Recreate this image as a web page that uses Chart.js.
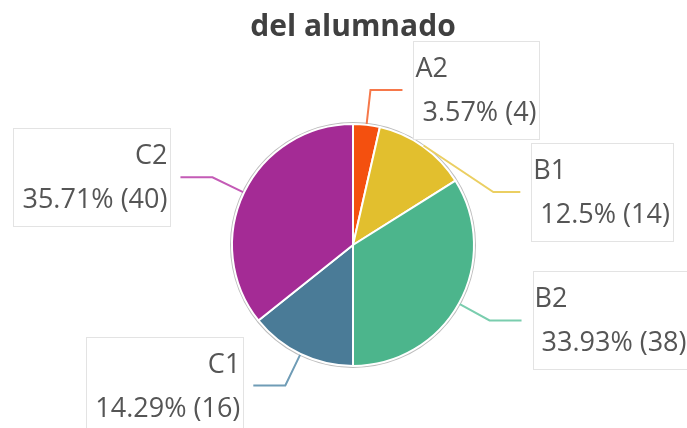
<!DOCTYPE html>
<html><head><meta charset="utf-8">
<script src="https://cdn.jsdelivr.net/npm/chart.js@4"></script>
<style>html,body{margin:0;padding:0;background:#fff}#wrap{width:687px;height:428px}</style>
</head><body><div id="wrap"><canvas id="c" width="687" height="428"></canvas></div>
<script>
const categories = ['A2', 'B1', 'B2', 'C1', 'C2'];
const counts = [4, 14, 38, 16, 40];
const percentLabels = ['3.57%', '12.5%', '33.93%', '14.29%', '35.71%'];
const sliceColors = ['#F4500F', '#E2BF2E', '#4CB58C', '#4A7B97', '#A42B95'];
const lineColors = ['#F6784A', '#EBCF62', '#7ACDAE', '#6F9CB6', '#C45BB6'];
const titleText = 'del alumnado';

const LABEL_FONT = '27px "Open Sans"';
const labelPlugin = {
  id: 'boxLabels',
  beforeDatasetsDraw(chart) {
    const arcs = chart.getDatasetMeta(0).data;
    if (!arcs.length) return;
    const a = arcs[0];
    const ctx = chart.ctx;
    ctx.save();
    ctx.beginPath();
    ctx.arc(a.x, a.y, a.outerRadius + 0.5, 0, Math.PI * 2);
    ctx.strokeStyle = '#BDBDBD';
    ctx.lineWidth = 3;
    ctx.stroke();
    ctx.restore();
  },
  afterDraw(chart) {
    const ctx = chart.ctx;
    const arcs = chart.getDatasetMeta(0).data;
    const items = arcs.map((arc, i) => {
      const mid = (arc.startAngle + arc.endAngle) / 2;
      const r = arc.outerRadius + 1;
      const cx = arc.x, cy = arc.y;
      const p0 = {x: cx + r * Math.cos(mid), y: cy + r * Math.sin(mid)};
      const er = r + 34;
      const elbow = {x: cx + er * Math.cos(mid), y: cy + er * Math.sin(mid)};
      const right = Math.cos(mid) >= 0;
      return {i, mid, r, cx, cy, p0, elbow, right, y: elbow.y, pushed: false};
    });
    const H = 98, GAP = 4;
    // collision avoidance for right side (top to bottom)
    const rights = items.filter(o => o.right).sort((a, b) => a.y - b.y);
    for (let k = 1; k < rights.length; k++) {
      const prev = rights[k - 1], cur = rights[k];
      if (cur.y - H / 2 < prev.y + H / 2 + GAP) {
        cur.y = prev.y + H + GAP;
        cur.pushed = true;
      }
    }
    ctx.save();
    ctx.font = LABEL_FONT;
    items.forEach(o => {
      const i = o.i;
      let elbow = o.elbow, hLen = 32;
      if (o.pushed) {
        const er = o.r + 28;
        const dy = o.y - o.cy;
        elbow = {x: o.cx + Math.sqrt(Math.max(er * er - dy * dy, 0)), y: o.y};
        hLen = 27;
      }
      const endX = o.right ? elbow.x + hLen : elbow.x - hLen;
      ctx.beginPath();
      ctx.moveTo(o.p0.x, o.p0.y);
      ctx.lineTo(elbow.x, elbow.y);
      ctx.lineTo(endX, elbow.y);
      ctx.strokeStyle = lineColors[i];
      ctx.lineWidth = 2;
      ctx.stroke();

      const name = categories[i];
      const value = percentLabels[i] + ' (' + counts[i] + ')';
      const w = Math.max(ctx.measureText(name).width, ctx.measureText(value).width) + 12;
      const midY = elbow.y;
      let left;
      if (o.right) left = endX + 11; else left = endX - 10 - w;
      ctx.fillStyle = '#FFFFFF';
      ctx.fillRect(left, midY - H / 2, w, H);
      ctx.strokeStyle = '#E3E3E3';
      ctx.lineWidth = 1;
      ctx.strokeRect(Math.round(left) + 0.5, Math.round(midY - H / 2) + 0.5, Math.round(w), H);
      ctx.fillStyle = '#555555';
      ctx.textBaseline = 'alphabetic';
      if (o.right) {
        ctx.textAlign = 'left';
        ctx.fillText(name, left + 2, midY - 13);
        ctx.fillText(value, left + 9, midY + 31);
      } else {
        ctx.textAlign = 'right';
        ctx.fillText(name, left + w - 3, midY - 13);
        ctx.fillText(value, left + w - 3, midY + 31);
      }
    });
    ctx.restore();
  }
};

new Chart(document.getElementById('c'), {
  type: 'pie',
  data: {
    labels: categories,
    datasets: [{
      data: counts,
      backgroundColor: sliceColors,
      borderColor: '#FFFFFF',
      borderWidth: 2
    }]
  },
  options: {
    responsive: false,
    animation: false,
    layout: {padding: {left: 200, right: 181, top: 0, bottom: 61}},
    plugins: {
      legend: {display: false},
      tooltip: {enabled: false},
      title: {
        display: true,
        text: titleText,
        color: '#404040',
        font: {family: '"Open Sans"', size: 30, weight: 'bold', lineHeight: 1.2},
        padding: {top: 9, bottom: 78}
      }
    }
  },
  plugins: [labelPlugin]
});
</script>
</body></html>
